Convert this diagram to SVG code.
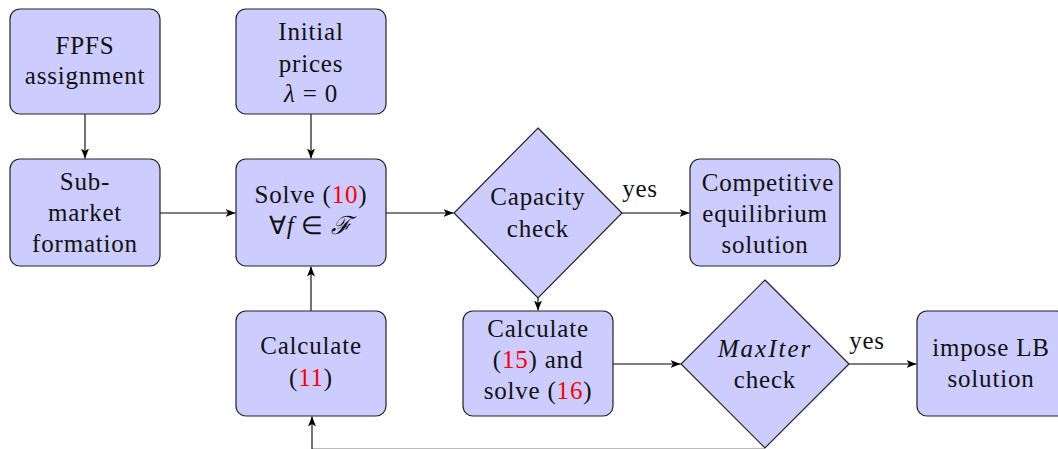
<svg xmlns="http://www.w3.org/2000/svg" width="1058" height="449" viewBox="0 0 1058 449">
<defs>
<marker id="ah" viewBox="0 0 10 8" refX="10" refY="4" markerWidth="10" markerHeight="8" markerUnits="userSpaceOnUse" orient="auto">
<path d="M0,0 L10,4 L0,8 L2.5,4 Z" fill="#000"/>
</marker>
<style>
.box{fill:#ccccff;stroke:#222;stroke-width:1.2}
.c{fill:none;stroke:#000;stroke-width:1.1}
</style>
</defs>
<rect width="1058" height="449" fill="#fff"/>
<g id="connectors">
<line class="c" x1="85" y1="114" x2="85" y2="158.5" marker-end="url(#ah)"/>
<line class="c" x1="311" y1="114" x2="311" y2="158.5" marker-end="url(#ah)"/>
<line class="c" x1="160" y1="213" x2="235.5" y2="213" marker-end="url(#ah)"/>
<line class="c" x1="386" y1="213" x2="453.5" y2="213" marker-end="url(#ah)"/>
<line class="c" x1="622" y1="213" x2="689.5" y2="213" marker-end="url(#ah)"/>
<line class="c" x1="538" y1="298" x2="538" y2="310.5" marker-end="url(#ah)"/>
<line class="c" x1="613" y1="364" x2="680.5" y2="364" marker-end="url(#ah)"/>
<line class="c" x1="849" y1="364" x2="916.5" y2="364" marker-end="url(#ah)"/>
<line class="c" x1="311" y1="311" x2="311" y2="266.5" marker-end="url(#ah)"/>
<line x1="765" y1="448.5" x2="312" y2="448.5" stroke="#bbb" stroke-width="1"/>
<line class="c" x1="312" y1="449" x2="312" y2="416.5" marker-end="url(#ah)"/>
<text x="640" y="197" font-family="Liberation Serif" font-size="25" letter-spacing="0.8" text-anchor="middle" fill="#111">yes</text>
<text x="867" y="349" font-family="Liberation Serif" font-size="25" letter-spacing="0.8" text-anchor="middle" fill="#111">yes</text>
</g>
<g id="fpfs">
<rect class="box" x="10" y="9" width="150" height="105" rx="10"/>
<text x="85" y="54" font-family="Liberation Serif" font-size="25" letter-spacing="0.8" text-anchor="middle" fill="#111">FPFS</text>
<text x="85" y="84" font-family="Liberation Serif" font-size="25" letter-spacing="0.8" text-anchor="middle" fill="#111">assignment</text>
</g>
<g id="initial">
<rect class="box" x="236" y="9" width="150" height="105" rx="10"/>
<text x="311" y="40" font-family="Liberation Serif" font-size="25" letter-spacing="0.8" text-anchor="middle" fill="#111">Initial</text>
<text x="311" y="72" font-family="Liberation Serif" font-size="25" letter-spacing="0.8" text-anchor="middle" fill="#111">prices</text>
<text x="311" y="102" font-family="Liberation Serif" font-size="25" letter-spacing="0.8" text-anchor="middle" fill="#111"><tspan font-style="italic">λ</tspan> = 0</text>
</g>
<g id="submarket">
<rect class="box" x="10" y="159" width="150" height="107" rx="10"/>
<text x="85" y="190" font-family="Liberation Serif" font-size="25" letter-spacing="0.8" text-anchor="middle" fill="#111">Sub-</text>
<text x="85" y="221" font-family="Liberation Serif" font-size="25" letter-spacing="0.8" text-anchor="middle" fill="#111">market</text>
<text x="85" y="252" font-family="Liberation Serif" font-size="25" letter-spacing="0.8" text-anchor="middle" fill="#111">formation</text>
</g>
<g id="solve">
<rect class="box" x="236" y="159" width="150" height="107" rx="10"/>
<text x="311" y="203" font-family="Liberation Serif" font-size="25" letter-spacing="0.8" text-anchor="middle" fill="#111">Solve (<tspan fill="#ff0000">10</tspan>)</text>
<text x="311" y="234" font-family="Liberation Serif" font-size="25" letter-spacing="0.8" text-anchor="middle" fill="#111">∀<tspan font-style="italic">f</tspan> ∈ <tspan font-style="italic">ℱ</tspan></text>
</g>
<g id="capacity">
<polygon class="box" points="538,128 622,213 538,298 454,213"/>
<text x="538" y="205" font-family="Liberation Serif" font-size="25" letter-spacing="0.8" text-anchor="middle" fill="#111">Capacity</text>
<text x="538" y="237" font-family="Liberation Serif" font-size="25" letter-spacing="0.8" text-anchor="middle" fill="#111">check</text>
</g>
<g id="competitive">
<rect class="box" x="690" y="159" width="150" height="107" rx="10"/>
<text x="768" y="191" font-family="Liberation Serif" font-size="25" letter-spacing="0.8" text-anchor="middle" fill="#111">Competitive</text>
<text x="765" y="222" font-family="Liberation Serif" font-size="25" letter-spacing="0.8" text-anchor="middle" fill="#111">equilibrium</text>
<text x="765" y="253" font-family="Liberation Serif" font-size="25" letter-spacing="0.8" text-anchor="middle" fill="#111">solution</text>
</g>
<g id="calc11">
<rect class="box" x="236" y="311" width="150" height="105" rx="10"/>
<text x="311" y="354" font-family="Liberation Serif" font-size="25" letter-spacing="0.8" text-anchor="middle" fill="#111">Calculate</text>
<text x="311" y="386" font-family="Liberation Serif" font-size="25" letter-spacing="0.8" text-anchor="middle" fill="#111">(<tspan fill="#ff0000">11</tspan>)</text>
</g>
<g id="calc15">
<rect class="box" x="463" y="311" width="150" height="105" rx="10"/>
<text x="538" y="337" font-family="Liberation Serif" font-size="25" letter-spacing="0.8" text-anchor="middle" fill="#111">Calculate</text>
<text x="538" y="368" font-family="Liberation Serif" font-size="25" letter-spacing="0.8" text-anchor="middle" fill="#111">(<tspan fill="#ff0000">15</tspan>) and</text>
<text x="538" y="399" font-family="Liberation Serif" font-size="25" letter-spacing="0.8" text-anchor="middle" fill="#111">solve (<tspan fill="#ff0000">16</tspan>)</text>
</g>
<g id="maxiter">
<polygon class="box" points="765,280 849,364 765,448 681,364"/>
<text x="765" y="357" font-family="Liberation Serif" font-size="25" font-style="italic" letter-spacing="2" text-anchor="middle" fill="#111">MaxIter</text>
<text x="765" y="388" font-family="Liberation Serif" font-size="25" letter-spacing="0.8" text-anchor="middle" fill="#111">check</text>
</g>
<g id="impose">
<rect class="box" x="917" y="311" width="150" height="105" rx="10"/>
<text x="991" y="356" font-family="Liberation Serif" font-size="25" letter-spacing="0.8" text-anchor="middle" fill="#111">impose LB</text>
<text x="991" y="387" font-family="Liberation Serif" font-size="25" letter-spacing="0.8" text-anchor="middle" fill="#111">solution</text>
</g>
</svg>
